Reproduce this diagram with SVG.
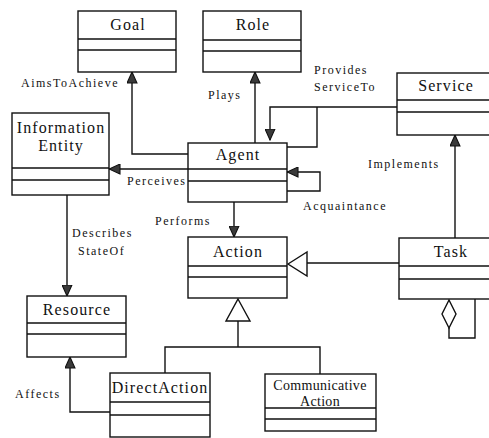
<svg xmlns="http://www.w3.org/2000/svg" width="489" height="438" viewBox="0 0 489 438">
  <style>
    .box { fill: #fff; stroke: #111; stroke-width: 1.4; }
    .sep { stroke: #111; stroke-width: 1.4; fill: none; }
    .cls { font-family: "Liberation Serif", "Times New Roman", serif; font-size: 16px; letter-spacing: 1.1px; fill: #111; text-anchor: middle; }
    .cls-s { font-family: "Liberation Serif", "Times New Roman", serif; font-size: 14px; letter-spacing: 0.3px; fill: #111; text-anchor: middle; }
    .lbl { font-family: "Liberation Serif", "Times New Roman", serif; font-size: 12px; letter-spacing: 1.5px; fill: #111; }
    .edge { fill: none; stroke: #111; stroke-width: 1.4; }
    .hollow { fill: #fff; stroke: #111; stroke-width: 1.4; }
  </style>
  <defs>
    <marker id="nav" viewBox="0 0 10 10" refX="10" refY="5" markerWidth="12" markerHeight="11" markerUnits="userSpaceOnUse" orient="auto">
      <path d="M0,0.5 L10,5 L0,9.5 Z" fill="#3a3a3a" stroke="#111" stroke-width="1"/>
    </marker>
  </defs>

  <rect width="489" height="438" fill="#fff"/>

  <!-- connectors -->
  <g id="connectors">
    <!-- AimsToAchieve -->
    <path class="edge" d="M188,154 H132 V72" marker-end="url(#nav)"/>
    <!-- Plays -->
    <path class="edge" d="M255,143 V72" marker-end="url(#nav)"/>
    <!-- ProvidesServiceTo -->
    <path class="edge" d="M397,107 H270 V140" marker-end="url(#nav)"/>
    <path class="edge" d="M317,107 V147 H287"/>
    <!-- Acquaintance (self association) -->
    <path class="edge" d="M287,191 H320 V172 H287" marker-end="url(#nav)"/>
    <!-- Perceives -->
    <path class="edge" d="M188,169 H109" marker-end="url(#nav)"/>
    <!-- Performs -->
    <path class="edge" d="M234,202 V237" marker-end="url(#nav)"/>
    <!-- DescribesStateOf -->
    <path class="edge" d="M67,195 V296" marker-end="url(#nav)"/>
    <!-- Affects -->
    <path class="edge" d="M110,412 H70 V357" marker-end="url(#nav)"/>
    <!-- Implements -->
    <path class="edge" d="M455,238 V135" marker-end="url(#nav)"/>
    <!-- Action specialisations -->
    <path class="edge" d="M165,373 V347 H320 V374"/>
    <path class="edge" d="M238,347 V321"/>
    <polygon class="hollow" points="238,299 250,321 226,321"/>
    <!-- Task is an Action -->
    <path class="edge" d="M399,263 H307"/>
    <polygon class="hollow" points="288,264 307,252 307,276"/>
    <!-- Task aggregation -->
    <path class="edge" d="M449,328 V338 H475 V299"/>
    <polygon class="hollow" points="449,300 456,314 449,328 442,314"/>

    <text class="lbl" x="21" y="87">AimsToAchieve</text>
    <text class="lbl" x="208" y="99">Plays</text>
    <text class="lbl" x="314" y="74">Provides</text>
    <text class="lbl" x="314" y="91">ServiceTo</text>
    <text class="lbl" x="368" y="168">Implements</text>
    <text class="lbl" x="127" y="185">Perceives</text>
    <text class="lbl" x="303" y="210">Acquaintance</text>
    <text class="lbl" x="155" y="225">Performs</text>
    <text class="lbl" x="72" y="237">Describes</text>
    <text class="lbl" x="78" y="255">StateOf</text>
    <text class="lbl" x="15" y="398">Affects</text>
  </g>

  <!-- classes -->
  <g id="goal">
    <rect class="box" x="78" y="11" width="98" height="61"/>
    <path class="sep" d="M78,39 H176 M78,50 H176"/>
    <text class="cls" x="128" y="30">Goal</text>
  </g>
  <g id="role">
    <rect class="box" x="203" y="11" width="98" height="61"/>
    <path class="sep" d="M203,40 H301 M203,51 H301"/>
    <text class="cls" x="253" y="30">Role</text>
  </g>
  <g id="service">
    <rect class="box" x="397" y="73" width="98" height="62"/>
    <path class="sep" d="M397,100 H495 M397,112 H495"/>
    <text class="cls" x="446" y="91">Service</text>
  </g>
  <g id="information-entity">
    <rect class="box" x="12" y="113" width="97" height="82"/>
    <path class="sep" d="M12,168 H109 M12,180 H109"/>
    <text class="cls" x="61" y="133">Information</text>
    <text class="cls" x="61" y="151">Entity</text>
  </g>
  <g id="agent">
    <rect class="box" x="188" y="143" width="99" height="59"/>
    <path class="sep" d="M188,169 H287 M188,181 H287"/>
    <text class="cls" x="238" y="160">Agent</text>
  </g>
  <g id="action">
    <rect class="box" x="188" y="237" width="99" height="61"/>
    <path class="sep" d="M188,266 H287 M188,277 H287"/>
    <text class="cls" x="238" y="257">Action</text>
  </g>
  <g id="task">
    <rect class="box" x="399" y="238" width="100" height="61"/>
    <path class="sep" d="M399,266 H499 M399,279 H499"/>
    <text class="cls" x="451" y="257">Task</text>
  </g>
  <g id="resource">
    <rect class="box" x="27" y="296" width="99" height="61"/>
    <path class="sep" d="M27,323 H126 M27,334 H126"/>
    <text class="cls" x="77" y="315">Resource</text>
  </g>
  <g id="direct-action">
    <rect class="box" x="110" y="373" width="100" height="64"/>
    <path class="sep" d="M110,402 H210 M110,415 H210"/>
    <text class="cls" x="160" y="393">DirectAction</text>
  </g>
  <g id="communicative-action">
    <rect class="box" x="265" y="374" width="111" height="57"/>
    <path class="sep" d="M265,408 H376 M265,419 H376"/>
    <text class="cls-s" x="320" y="390">Communicative</text>
    <text class="cls-s" x="320" y="406">Action</text>
  </g>
</svg>
